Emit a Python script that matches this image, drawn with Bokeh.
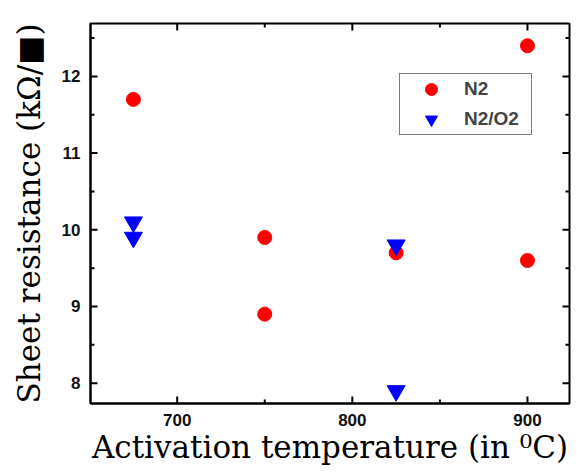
from bokeh.plotting import figure
from bokeh.models import Range1d, FixedTicker, Legend, LegendItem
from bokeh.embed import file_html
from bokeh.resources import INLINE

# Data
n2_temp = [675, 750, 750, 825, 900, 900]
n2_res = [11.7, 9.9, 8.9, 9.7, 12.4, 9.6]
n2o2_temp = [675, 675, 825, 825]
n2o2_res = [10.1, 9.9, 9.8, 7.9]
series_labels = ["N2", "N2/O2"]
x_major = [700, 800, 900]
x_minor = [750, 850]
y_major = [8, 9, 10, 11, 12]
y_minor = [8.5, 9.5, 10.5, 11.5, 12.5]
x_label = "Activation temperature (in \u2070C)"
y_label = "Sheet resistance (k\u03a9/\u25a0)"

W, H = 582, 476
BL, BR, BT, BB = 90, 13, 23, 73
xr = Range1d(650.5, 924)
yr = Range1d(7.735, 12.69)

p = figure(width=W, height=H, output_backend="svg", toolbar_location=None,
           x_range=xr, y_range=yr,
           min_border_left=BL, min_border_right=BR, min_border_top=BT, min_border_bottom=BB)
p.grid.visible = False
p.outline_line_color = "black"
p.outline_line_width = 2

p.xaxis.ticker = FixedTicker(ticks=x_major, minor_ticks=x_minor)
p.yaxis.ticker = FixedTicker(ticks=y_major, minor_ticks=y_minor)

for ax in (p.xaxis[0], p.yaxis[0]):
    ax.axis_line_width = 2
    ax.axis_line_color = "black"
    ax.major_tick_in = 0
    ax.major_tick_out = 0
    ax.minor_tick_in = 0
    ax.minor_tick_out = 0
    ax.major_label_text_font = "Liberation Sans"
    ax.major_label_text_font_style = "bold"
    ax.major_label_text_font_size = "17px"
    ax.major_label_text_color = "#111111"
    ax.major_label_standoff = 10
    ax.axis_label_text_font = "DejaVu Serif"
    ax.axis_label_text_font_style = "normal"
    ax.axis_label_text_color = "black"
    ax.axis_label_text_font_size = "31px"

p.xaxis.axis_label = x_label
p.yaxis.axis_label = y_label
p.xaxis.axis_label_standoff = 0
p.yaxis.axis_label_standoff = 12

# inward ticks on all four sides, drawn from the tick lists
fw = W - BL - BR
fh = H - BT - BB
ux = (xr.end - xr.start) / fw   # data units per pixel (x)
uy = (yr.end - yr.start) / fh   # data units per pixel (y)
maj, mnr = 7, 4

def xticks(vals, length):
    n = len(vals)
    p.segment(x0=vals, x1=vals, y0=[yr.start] * n, y1=[yr.start + length * uy] * n,
              line_color="black", line_width=2)
    p.segment(x0=vals, x1=vals, y0=[yr.end] * n, y1=[yr.end - length * uy] * n,
              line_color="black", line_width=2)

def yticks(vals, length):
    n = len(vals)
    p.segment(y0=vals, y1=vals, x0=[xr.start] * n, x1=[xr.start + length * ux] * n,
              line_color="black", line_width=2)
    p.segment(y0=vals, y1=vals, x0=[xr.end] * n, x1=[xr.end - length * ux] * n,
              line_color="black", line_width=2)

xticks(x_major, maj)
xticks(x_minor, mnr)
yticks(y_major, maj)
yticks(y_minor, mnr)

r1 = p.scatter(n2_temp, n2_res, marker="circle", size=14, fill_color="#ff0000", line_color="#ff0000")
r2 = p.scatter(n2o2_temp, n2o2_res, marker="inverted_triangle", size=18, fill_color="#0000ff", line_color="#0000ff")

legend = Legend(items=[LegendItem(label=series_labels[0], renderers=[r1]),
                       LegendItem(label=series_labels[1], renderers=[r2])],
                location=(309, 268))
legend.padding = 0
legend.margin = 0
legend.spacing = 0
legend.glyph_width = 62
legend.glyph_height = 30
legend.label_height = 30
legend.label_width = 67
legend.label_standoff = 2
legend.label_text_font = "Liberation Sans"
legend.label_text_font_style = "bold"
legend.label_text_font_size = "19px"
legend.border_line_color = "black"
legend.border_line_width = 1.5
legend.background_fill_color = "white"
p.add_layout(legend, "center")

open("out.html", "w").write(file_html(p, INLINE))
